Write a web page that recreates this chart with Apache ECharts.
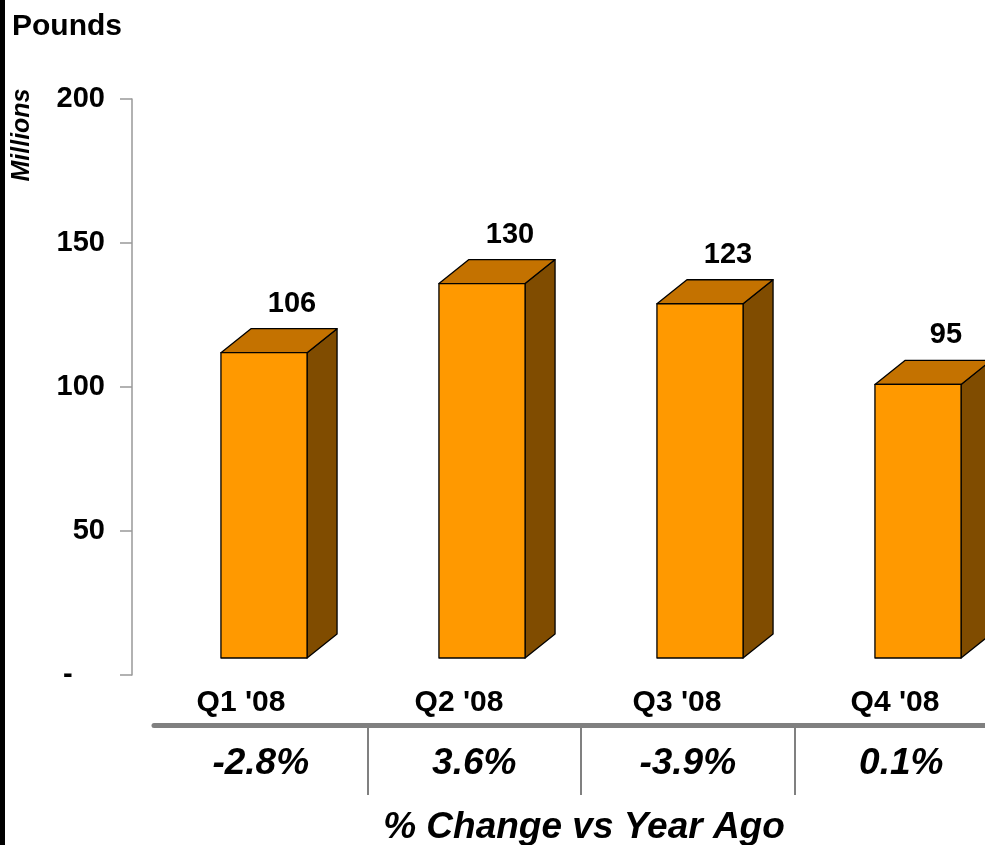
<!DOCTYPE html>
<html>
<head>
<meta charset="utf-8">
<script src="https://cdn.jsdelivr.net/npm/echarts@6/dist/echarts.min.js"></script>
<style>
html,body{margin:0;padding:0;background:#fff;}
#chart{width:985px;height:845px;}
</style>
</head>
<body>
<div id="chart"></div>
<script>
const categories = ["Q1 '08", "Q2 '08", "Q3 '08", "Q4 '08"];
const pounds = [106, 130, 123, 95];
const pctChange = ["-2.8%", "3.6%", "-3.9%", "0.1%"];
const yTicks = [0, 50, 100, 150, 200];

const FONT = "'Liberation Sans', Arial, sans-serif";
const chart = echarts.init(document.getElementById('chart'), null, {renderer: 'canvas'});

const FRONT = '#FF9900', TOP = '#C47200', SIDE = '#804C00';

function renderBox(params, api) {
  const cat = api.value(0);
  const val = api.value(1);
  const c = api.coord([cat, val]);
  const b = api.coord([cat, 0]);
  const w = api.size([1, 0])[0] * 0.395;
  const offX = 23, offY = -17, dx = 30, dy = -24;
  const cx = c[0] + offX;
  const x0 = cx - w / 2, x1 = cx + w / 2;
  const yT = c[1] + offY, yB = b[1] + offY;
  const edge = {stroke: '#000', lineWidth: 1.3, lineJoin: 'round'};
  return {
    type: 'group',
    children: [
      {type: 'polygon', shape: {points: [[x1, yT], [x1 + dx, yT + dy], [x1 + dx, yB + dy], [x1, yB]]},
        style: Object.assign({fill: SIDE}, edge)},
      {type: 'polygon', shape: {points: [[x0, yT], [x0 + dx, yT + dy], [x1 + dx, yT + dy], [x1, yT]]},
        style: Object.assign({fill: TOP}, edge)},
      {type: 'rect', shape: {x: x0, y: yT, width: w, height: yB - yT},
        style: Object.assign({fill: FRONT}, edge)},
      {type: 'text', x: cx + 28, y: yT + dy - 25,
        style: {text: String(val), fill: '#000', font: 'bold 29px ' + FONT, align: 'center', verticalAlign: 'middle'}}
    ]
  };
}

chart.setOption({
  animation: false,
  backgroundColor: '#fff',
  grid: [
    {left: 132, width: 872, top: 99, bottom: 170, outerBoundsMode: 'none'},
    {left: 154, width: 854, top: 725, height: 70, outerBoundsMode: 'none'}
  ],
  xAxis: [
    {type: 'category', gridIndex: 0, data: categories,
      axisLine: {show: false}, axisTick: {show: false},
      axisLabel: {color: '#000', fontFamily: FONT, fontWeight: 'bold', fontSize: 30, margin: 13}},
    {type: 'category', gridIndex: 1, position: 'top', data: pctChange,
      axisLine: {show: true, onZero: false, lineStyle: {color: '#808080', width: 5}},
      axisTick: {show: true, inside: true, length: 70, lineStyle: {color: '#808080', width: 2},
        interval: function (idx) { return idx !== 0; }},
      axisLabel: {inside: true, color: '#000', fontFamily: FONT, fontWeight: 'bold', fontStyle: 'italic', fontSize: 37, margin: 20}}
  ],
  yAxis: [
    {type: 'value', gridIndex: 0, min: yTicks[0], max: yTicks[yTicks.length - 1], interval: 50,
      splitLine: {show: false},
      axisLine: {show: true, lineStyle: {color: '#999999', width: 1.5}},
      axisTick: {show: true, length: 12, lineStyle: {color: '#999999', width: 1.5}},
      axisLabel: {color: '#000', fontFamily: FONT, fontWeight: 'bold', fontSize: 29, margin: 27,
        formatter: function (v) { return v === 0 ? '-    ' : String(v); }}},
    {type: 'value', gridIndex: 1, show: false}
  ],
  series: [
    {type: 'custom', xAxisIndex: 0, yAxisIndex: 0, clip: false,
      data: pounds.map((v, i) => [i, v]), renderItem: renderBox}
  ],
  graphic: [
    {type: 'rect', shape: {x: 0, y: 0, width: 5, height: 845}, style: {fill: '#000'}},
    {type: 'text', x: 12, y: 27, style: {text: 'Pounds', fill: '#000', font: 'bold 30px ' + FONT, verticalAlign: 'middle'}},
    {type: 'text', x: 22, y: 135, rotation: Math.PI / 2,
      style: {text: 'Millions', fill: '#000', font: 'italic bold 25px ' + FONT, align: 'center', verticalAlign: 'middle'}},
    {type: 'text', x: 584, y: 828, style: {text: '% Change vs Year Ago', fill: '#000', font: 'italic bold 37px ' + FONT, align: 'center', verticalAlign: 'middle'}}
  ]
});
</script>
</body>
</html>
